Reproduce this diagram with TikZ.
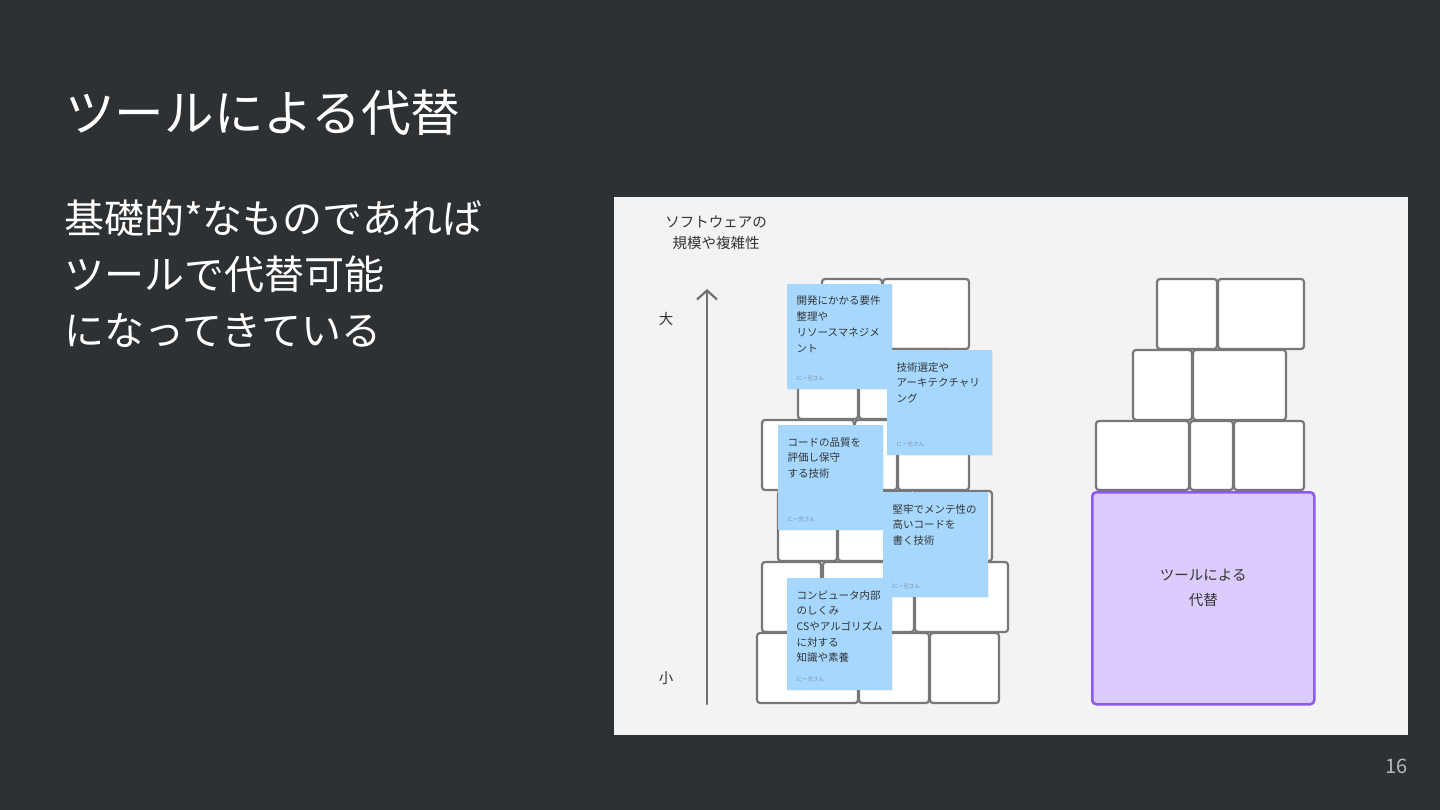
\documentclass[tikz,border=0pt]{standalone}
\usepackage{fontspec}
\setmainfont{Noto Sans CJK JP}
\usetikzlibrary{positioning, arrows.meta, shadows}
\definecolor{slidebg}{HTML}{2E3134}
\definecolor{panelbg}{HTML}{F3F3F3}
\definecolor{brickgray}{HTML}{777777}
\definecolor{stickyblue}{HTML}{A6D8FF}
\definecolor{inktext}{HTML}{333333}
\definecolor{siggray}{HTML}{7A8A99}
\definecolor{toolfill}{HTML}{DCCCFD}
\definecolor{toolline}{HTML}{8D5BE8}
\definecolor{pagegray}{HTML}{B8B8B8}
\tikzset{
  brick/.style={draw=brickgray, line width=2.2pt, fill=white, rounded corners=3pt},
  sticky/.style={fill=stickyblue, anchor=north west, inner sep=0pt, minimum width=105pt, minimum height=105pt,
    drop shadow={opacity=0.12, shadow xshift=0.6pt, shadow yshift=-1.2pt}},
  note/.style={anchor=north west, inner sep=0pt, align=left, text=inktext, font=\fontsize{10.5}{15.7}\selectfont},
  sig/.style={anchor=west, inner sep=0pt, text=siggray, font=\fontsize{5.5}{6}\selectfont},
  paneltext/.style={inner sep=0pt, align=center, text=inktext, font=\fontsize{14.5}{21.5}\selectfont},
  toolbox/.style={draw=toolline, fill=toolfill, line width=2.5pt, rounded corners=4pt, anchor=north west, inner sep=0pt},
  slidetitle/.style={anchor=base west, inner sep=0pt, text=white, font=\fontsize{49.6}{58}\selectfont},
  slidebody/.style={anchor=north west, inner sep=0pt, align=left, text=white, font=\fontsize{40}{56}\selectfont}
}

\begin{document}
\begin{tikzpicture}[x=1pt, y=-1pt]
  % Slide background
  \useasboundingbox (0,0) rectangle (1440,810);
  \fill[slidebg] (0,0) rectangle (1440,810);
  \fill[panelbg] (614,197) rectangle (1408,735);

  % Title and text
  \node[slidetitle] (title) at (65,132) {ツールによる代替};
  \node[slidebody] (lead) at (64,200) {基礎的*なものであれば\\ツールで代替可能\\になってきている};
  \node[anchor=base east, inner sep=0pt, text=pagegray, font=\fontsize{20}{24}\selectfont] (page) at (1408,773) {16};

  % Axis
  \node[paneltext] (scale) at (716,233) {ソフトウェアの\\規模や複雑性};
  \coordinate (lo) at (707,704);
  \coordinate (hi) at (707,289);
  \draw[brickgray!95!black, line width=2.2pt, line cap=round, -{Straight Barb[length=9pt, width=20pt, line width=2.2pt]}] (lo) -- (hi);
  \node[paneltext] (big) at (666,319) {大};
  \node[paneltext] (small) at (666,678) {小};

  % Left stack of bricks
  \foreach \xa/\ya/\xb/\yb in {822/279/882/349, 883/279/969/349,
      798/349/858/419, 859/349/951/419,
      762/420/854/490, 855/420/897/490, 898/420/969/490,
      778/491/837/561, 838/491/912/561, 913/491/992/561,
      762/562/821/632, 823/562/914/632, 915/562/1008/632,
      757/633/858/703, 859/633/929/703, 930/633/999/703}
    \draw[brick] (\xa,\ya) rectangle (\xb,\yb);

  % Sticky notes
  \node[sticky] (req) at (787,284) {};
  \node[note] (reqtext) at ([xshift=9.5pt, yshift=-12pt]req.north west) {開発にかかる要件\\整理や\\リソースマネジメ\\ント};
  \node[sig] (reqsig) at ([xshift=9.5pt, yshift=11pt]req.south west) {にー兄さん};

  \node[sticky] (arch) at (887,350) {};
  \node[note] (archtext) at ([xshift=9.5pt, yshift=-12pt]arch.north west) {技術選定や\\アーキテクチャリ\\ング};
  \node[sig] (archsig) at ([xshift=9.5pt, yshift=11pt]arch.south west) {にー兄さん};

  \node[sticky] (qual) at (778,425) {};
  \node[note] (qualtext) at ([xshift=9.5pt, yshift=-12pt]qual.north west) {コードの品質を\\評価し保守\\する技術};
  \node[sig] (qualsig) at ([xshift=9.5pt, yshift=11pt]qual.south west) {にー兄さん};

  \node[sticky] (code) at (883,492) {};
  \node[note] (codetext) at ([xshift=9.5pt, yshift=-12pt]code.north west) {堅牢でメンテ性の\\高いコードを\\書く技術};
  \node[sig] (codesig) at ([xshift=9.5pt, yshift=11pt]code.south west) {にー兄さん};

  \node[sticky, minimum height=112pt] (base) at (787,578) {};
  \node[note] (basetext) at ([xshift=9.5pt, yshift=-12pt]base.north west) {コンピュータ内部\\のしくみ\\CSやアルゴリズム\\に対する\\知識や素養};
  \node[sig] (basesig) at ([xshift=9.5pt, yshift=11pt]base.south west) {にー兄さん};

  % Right stack of bricks
  \foreach \xa/\ya/\xb/\yb in {1157/279/1217/349, 1218/279/1304/349,
      1133/350/1192/420, 1193/350/1286/420,
      1096/421/1189/490, 1190/421/1233/490, 1234/421/1304/490}
    \draw[brick] (\xa,\ya) rectangle (\xb,\yb);

  % Tool box
  \node[toolbox, minimum width=222pt, minimum height=212pt] (tool) at (1091,491) {};
  \node[paneltext, font=\fontsize{14.5}{25}\selectfont] (toollabel) at ([yshift=10pt]tool.center) {ツールによる\\代替};
\end{tikzpicture}
\end{document}
